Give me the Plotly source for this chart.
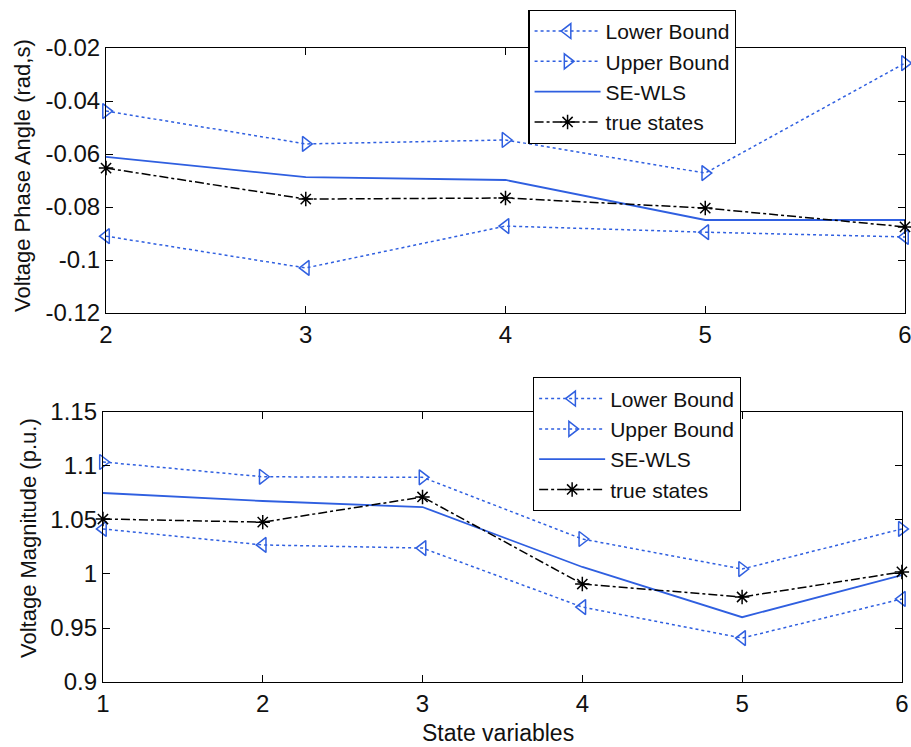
import plotly.graph_objects as go

# ---- data ----
x_top = [2, 3, 4, 5, 6]
top_lower = [-0.0910, -0.1030, -0.0872, -0.0895, -0.0913]
top_upper = [-0.0438, -0.0562, -0.0547, -0.0672, -0.0257]
top_sewls = [-0.0611, -0.0687, -0.0698, -0.0849, -0.0849]
top_true = [-0.0653, -0.0770, -0.0766, -0.0804, -0.0875]

x_bot = [1, 2, 3, 4, 5, 6]
bot_lower = [1.0417, 1.0269, 1.0240, 0.9694, 0.9407, 0.9769]
bot_upper = [1.1037, 1.0900, 1.0895, 1.0324, 1.0046, 1.0417]
bot_sewls = [1.0750, 1.0676, 1.0620, 1.0065, 0.9600, 0.9990]
bot_true = [1.0509, 1.0480, 1.0713, 0.9907, 0.9787, 1.0019]

names = ["Lower Bound", "Upper Bound", "SE-WLS", "true states"]
top_ticks = [-0.12, -0.1, -0.08, -0.06, -0.04, -0.02]
top_ticktext = ["-0.12", "-0.1", "-0.08", "-0.06", "-0.04", "-0.02"]
bot_ticks = [0.9, 0.95, 1.0, 1.05, 1.1, 1.15]
bot_ticktext = ["0.9", "0.95", "1", "1.05", "1.1", "1.15"]

BLUE = "#2f5fe0"
FONT = "Liberation Sans, Arial, sans-serif"

fig = go.Figure()

def add_set(x, lo, up, se, tr, xa, ya, leg):
    fig.add_trace(go.Scatter(x=x, y=lo, name=names[0], mode="lines+markers",
                             line=dict(color=BLUE, dash="dot", width=1.5),
                             marker=dict(symbol="triangle-left-open", size=13, color=BLUE, line=dict(width=1.5)),
                             xaxis=xa, yaxis=ya, legend=leg, cliponaxis=False))
    fig.add_trace(go.Scatter(x=x, y=up, name=names[1], mode="lines+markers",
                             line=dict(color=BLUE, dash="dot", width=1.5),
                             marker=dict(symbol="triangle-right-open", size=13, color=BLUE, line=dict(width=1.5)),
                             xaxis=xa, yaxis=ya, legend=leg, cliponaxis=False))
    fig.add_trace(go.Scatter(x=x, y=se, name=names[2], mode="lines",
                             line=dict(color=BLUE, width=1.8),
                             xaxis=xa, yaxis=ya, legend=leg, cliponaxis=False))
    fig.add_trace(go.Scatter(x=x, y=tr, name=names[3], mode="lines+markers",
                             line=dict(color="black", dash="dashdot", width=1.5),
                             marker=dict(symbol="asterisk-open", size=12, color="black", line=dict(width=1.5, color="black")),
                             xaxis=xa, yaxis=ya, legend=leg, cliponaxis=False))

add_set(x_top, top_lower, top_upper, top_sewls, top_true, "x", "y", "legend")
add_set(x_bot, bot_lower, bot_upper, bot_sewls, bot_true, "x2", "y2", "legend2")

axis_common = dict(showline=True, linecolor="black", linewidth=1.2, mirror="ticks",
                   ticks="inside", ticklen=7, tickcolor="black", showgrid=False, zeroline=False,
                   automargin=False, ticklabeloverflow="allow",
                   tickfont=dict(family=FONT, size=24, color="#111"))

legend_common = dict(bgcolor="white", bordercolor="black", borderwidth=1.2,
                     font=dict(family=FONT, size=21, color="#111"),
                     xanchor="left", yanchor="top", tracegroupgap=0, itemwidth=66)

title_font = dict(family=FONT, size=22, color="#111")

fig.update_layout(
    width=911, height=747,
    margin=dict(l=0, r=0, t=0, b=0),
    paper_bgcolor="white", plot_bgcolor="white",
    font=dict(family=FONT),
    xaxis=dict(domain=[0.1164, 0.9934], range=[2, 6], tickvals=x_top, anchor="y", **axis_common),
    yaxis=dict(domain=[0.581, 0.9357], range=[-0.12, -0.02], tickvals=top_ticks, ticktext=top_ticktext,
               anchor="x", **axis_common),
    xaxis2=dict(domain=[0.113, 0.990], range=[1, 6], tickvals=x_bot, anchor="y2", **axis_common),
    yaxis2=dict(domain=[0.087, 0.4485], range=[0.9, 1.15], tickvals=bot_ticks, ticktext=bot_ticktext,
                anchor="x2", **axis_common),
    legend=dict(x=0.58, y=0.987, **legend_common),
    legend2=dict(x=0.585, y=0.495, **legend_common),
    annotations=[
        dict(text="Voltage Phase Angle (rad,s)", textangle=-90, xref="paper", yref="paper",
             x=22 / 911, y=1 - 176 / 747, showarrow=False, font=title_font, xanchor="center", yanchor="middle"),
        dict(text="Voltage Magnitude (p.u.)", textangle=-90, xref="paper", yref="paper",
             x=28 / 911, y=1 - 538 / 747, showarrow=False, font=title_font, xanchor="center", yanchor="middle"),
        dict(text="State variables", xref="paper", yref="paper",
             x=498 / 911, y=1 - 733 / 747, showarrow=False, font=dict(family=FONT, size=23, color="#111"),
             xanchor="center", yanchor="middle"),
    ],
)

fig.write_html("out.html")
